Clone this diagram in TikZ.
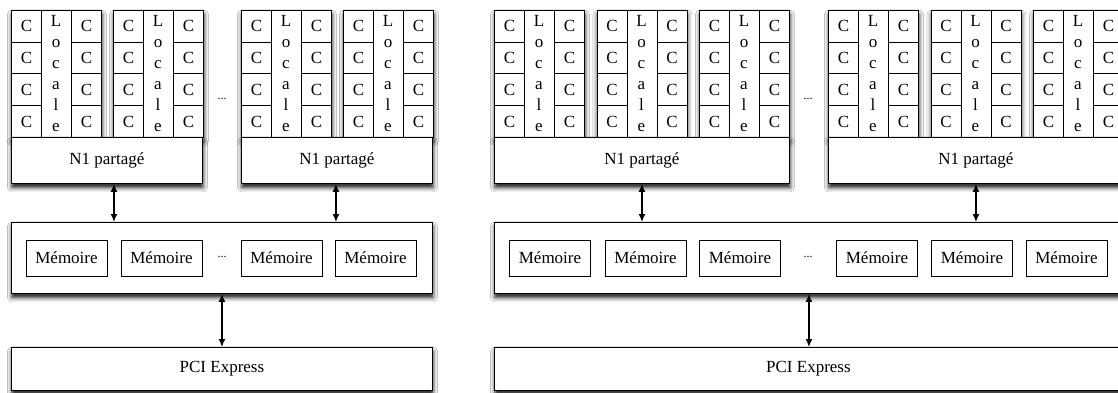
\documentclass[tikz,border=0pt]{standalone}
\usepackage{fontspec}
\setmainfont{Liberation Serif}
\usetikzlibrary{shadows.blur,arrows.meta}
\tikzset{
  box/.style={draw=black, line width=0.9pt, fill=white, rectangle, inner sep=0pt, anchor=north west},
  shad/.style={blur shadow={shadow xshift=0.5pt, shadow yshift=-4pt, shadow blur radius=4.5pt, shadow opacity=95}},
  txt/.style={font=\fontsize{17}{20}\selectfont},
  cell/.style={box, txt, minimum width=30pt, minimum height=31.75pt},
  loc/.style={txt, font=\fontsize{17}{21}\selectfont, align=center, inner sep=0pt},
  memo/.style={draw=black, line width=0.9pt, fill=white, rectangle, inner sep=0pt, txt, minimum width=81pt, minimum height=36pt},
  dotsty/.style={font=\fontsize{12}{12}\selectfont, inner sep=0pt},
  arr/.style={{Latex[length=8pt,width=7pt]}-{Latex[length=8pt,width=7pt]}, line width=1.4pt}
}
\newcommand{\mytile}[2]{%
  \node[box, shad, minimum width=90pt, minimum height=127pt] (#2) at (#1,10) {};
  \foreach \i in {0,...,3} {
    \node[cell] (#2-a\i) at ({#1},{10+\i*31.75}) {C};
    \node[cell] (#2-b\i) at ({#1+60},{10+\i*31.75}) {C};
  }
  \node[loc] (#2-m) at ({#1+45},73.5) {L\\o\\c\\a\\l\\e};
}
\begin{document}
\begin{tikzpicture}[x=1pt,y=-1pt]
\useasboundingbox (0,0) rectangle (1118,393);
\clip (0,0) rectangle (1118,393);
\fill[white] (0,0) rectangle (1118,393);

% ---------------- left half ----------------
\mytile{11}{ta}
\mytile{113}{tb}
\node[box, shad, txt, minimum width=191pt, minimum height=46pt] (n1a) at (11,137) {N1 partagé};
\mytile{241}{tc}
\mytile{343}{td}
\node[box, shad, txt, minimum width=191pt, minimum height=46pt] (n1b) at (241,137) {N1 partagé};
\node[dotsty] (dotsa) at (222,99) {...};

\node[box, shad, minimum width=421pt, minimum height=71pt] (mema) at (11,222) {};
\node[memo] (ma1) at (66.5,258) {Mémoire};
\node[memo] (ma2) at (161.5,258) {Mémoire};
\node[dotsty] (dotsb) at (222,257) {...};
\node[memo] (ma3) at (281.5,258) {Mémoire};
\node[memo] (ma4) at (375.5,258) {Mémoire};

\node[box, shad, txt, minimum width=421pt, minimum height=43pt] (pcia) at (11,347) {PCI Express};

\draw[arr] ([xshift=7pt]n1a.south) -- ([xshift=7pt]n1a.south |- mema.north);
\draw[arr] ([xshift=-1pt]n1b.south) -- ([xshift=-1pt]n1b.south |- mema.north);
\draw[arr] (mema.south) -- (mema.south |- pcia.north);

% ---------------- right half ----------------
\mytile{494}{tr1}
\mytile{596.5}{tr2}
\mytile{699}{tr3}
\node[box, shad, txt, minimum width=295pt, minimum height=46pt] (n1c) at (494,137) {N1 partagé};
\mytile{828}{tr4}
\mytile{930.5}{tr5}
\mytile{1033}{tr6}
\node[box, shad, txt, minimum width=295pt, minimum height=46pt] (n1d) at (828,137) {N1 partagé};
\node[dotsty] (dotsc) at (808,99) {...};

\node[box, shad, minimum width=628pt, minimum height=71pt] (memb) at (494,222) {};
\node[memo] (mb1) at (550,258) {Mémoire};
\node[memo] (mb2) at (645.5,258) {Mémoire};
\node[memo] (mb3) at (740,258) {Mémoire};
\node[dotsty] (dotsd) at (808,257) {...};
\node[memo] (mb4) at (877,258) {Mémoire};
\node[memo] (mb5) at (972,258) {Mémoire};
\node[memo] (mb6) at (1066.5,258) {Mémoire};

\node[box, shad, txt, minimum width=628pt, minimum height=43pt] (pcib) at (494,347) {PCI Express};

\draw[arr] (n1c.south) -- (n1c.south |- memb.north);
\draw[arr] (n1d.south) -- (n1d.south |- memb.north);
\draw[arr] ([xshift=0.5pt]memb.south) -- ([xshift=0.5pt]memb.south |- pcib.north);
\end{tikzpicture}
\end{document}
